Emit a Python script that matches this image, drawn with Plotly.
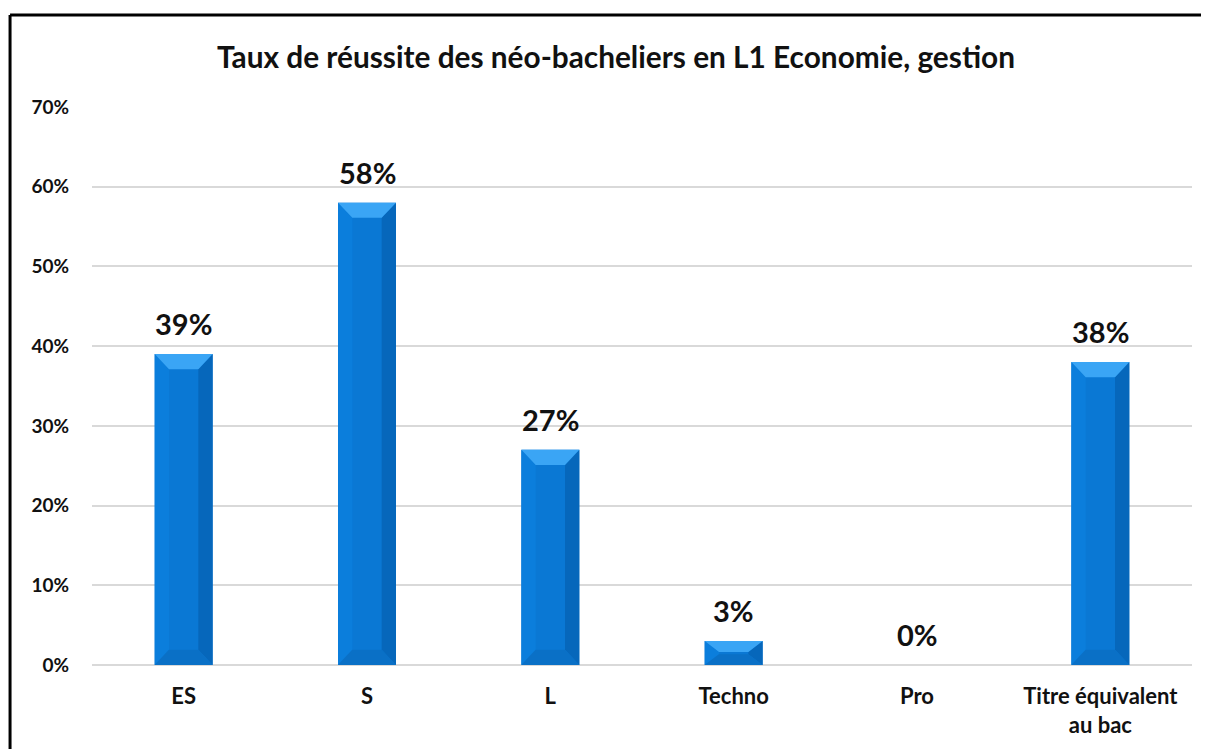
import plotly.graph_objects as go

categories = ["ES", "S", "L", "Techno", "Pro", "Titre équivalent<br>au bac"]
rates = [0.39, 0.58, 0.27, 0.03, 0.0, 0.38]
labels = ["39%", "58%", "27%", "3%", "0%", "38%"]
y_ticks = [0, 0.1, 0.2, 0.3, 0.4, 0.5, 0.6, 0.7]
y_ticktext = ["0%", "10%", "20%", "30%", "40%", "50%", "60%", "70%"]

FONT = "Lato"
BAR_W = 0.316
DX = 0.078   # bevel width in category units
DY = 0.019   # bevel height in value units

C_FACE = "#0A78D4"
C_TOP = "#3AA5F5"
C_RIGHT = "#0667BB"
C_LEFT = "#0B7EDC"
C_BOTTOM = "#0A70C6"

fig = go.Figure()
xs = list(range(len(categories)))

# main bar faces
fig.add_trace(go.Bar(x=xs, y=rates, width=BAR_W, marker=dict(color=C_FACE, line=dict(width=0)),
                     hoverinfo="skip", showlegend=False))

def poly(px, py, color):
    fig.add_trace(go.Scatter(x=px + [px[0]], y=py + [py[0]], fill="toself", fillcolor=color,
                             mode="lines", line=dict(width=0, color=color),
                             hoverinfo="skip", showlegend=False))

for i, v in zip(xs, rates):
    if v <= 0:
        continue
    x0, x1 = i - BAR_W / 2, i + BAR_W / 2
    h = min(DY, v / 2.2)
    poly([x0, x0 + DX, x0 + DX, x0], [v, v - h, h, 0], C_LEFT)
    poly([x1, x1 - DX, x1 - DX, x1], [v, v - h, h, 0], C_RIGHT)
    poly([x0, x1, x1 - DX, x0 + DX], [0, 0, h, h], C_BOTTOM)
    poly([x0, x1, x1 - DX, x0 + DX], [v, v, v - h, v - h], C_TOP)

for i, v, t in zip(xs, rates, labels):
    fig.add_annotation(x=i, y=v, text=t, showarrow=False, yanchor="bottom", yshift=11,
                       font=dict(family=FONT, size=29, color="#111111", weight="bold"))

# outer frame: left and top edges (right/bottom lie outside the picture)
fig.add_shape(type="line", xref="paper", yref="paper", x0=-0.0745, x1=-0.0745, y0=-0.5, y1=1.165,
              line=dict(color="black", width=3), layer="above")
fig.add_shape(type="line", xref="paper", yref="paper", x0=-0.0745, x1=1.5, y0=1.165, y1=1.165,
              line=dict(color="black", width=3), layer="above")

fig.update_layout(
    width=1201, height=741,
    margin=dict(l=84, r=17, t=99, b=84, autoexpand=False),
    paper_bgcolor="white", plot_bgcolor="white",
    title=dict(text="<b>Taux de réussite des néo-bacheliers en L1 Economie, gestion</b>",
               x=608 / 1201, xanchor="center", y=1 - 50 / 741, yanchor="middle",
               font=dict(family=FONT, size=29.8, color="#111111")),
    xaxis=dict(range=[-0.5, 5.5], tickvals=xs, ticktext=categories, showgrid=False,
               zeroline=False, showline=False, ticks="", ticklabelstandoff=16, automargin=False,
               tickfont=dict(family=FONT, size=22, color="#111111", weight="bold")),
    yaxis=dict(range=[0, 0.70], tickvals=y_ticks, ticktext=y_ticktext, showgrid=True,
               gridcolor="#D9D9D9", gridwidth=2, zeroline=True, zerolinecolor="#D9D9D9",
               zerolinewidth=2, showline=False, ticks="", ticklabelstandoff=22, automargin=False,
               tickfont=dict(family=FONT, size=19, color="#111111", weight="bold")),
)

fig.write_html("out.html")
